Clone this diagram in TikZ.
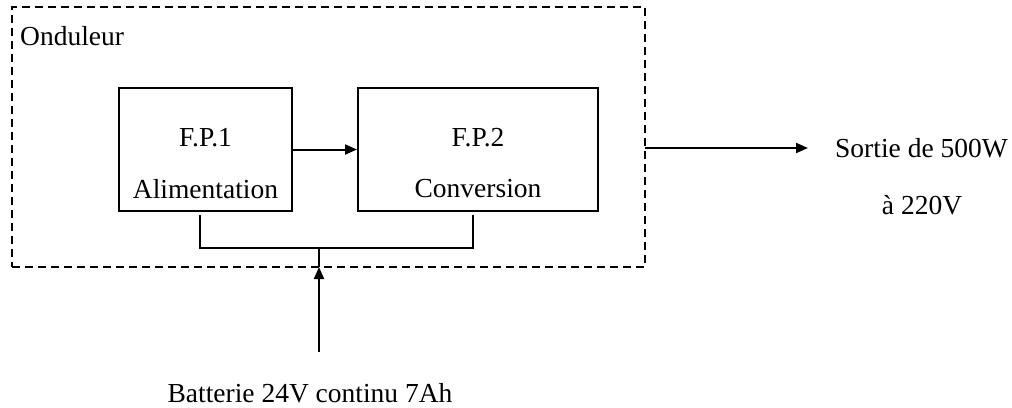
\documentclass[tikz,border=0pt]{standalone}
\usepackage{fontspec}
\setmainfont{Liberation Serif}
\usetikzlibrary{arrows.meta}
\begin{document}
\begin{tikzpicture}[x=1pt,y=-1pt,
  lbl/.style={font=\fontsize{27.5}{32}\selectfont, inner sep=0pt},
  fpbox/.style={draw, line width=2pt, minimum height=123pt},
  wire/.style={line width=2pt},
  arr/.style={wire, -{Triangle[length=12pt,width=10pt]}},
  frame/.style={draw, line width=2pt, dash pattern=on 8pt off 5pt}]
\useasboundingbox (0,0) rectangle (1012,407);
\node[frame, minimum width=633pt, minimum height=260pt, inner sep=0pt] (ond) at (328.5,137) {};
\node[lbl, anchor=base west] (ondlbl) at (20,45) {Onduleur};
\node[fpbox, minimum width=173pt] (fp1) at (205.5,149.5) {};
\node[fpbox, minimum width=240pt] (fp2) at (478,149.5) {};
\node[lbl] (fp1a) at (205.5,138) {F.P.1};
\node[lbl] (fp1b) at (205.5,189) {Alimentation};
\node[lbl] (fp2a) at (478,138) {F.P.2};
\node[lbl] (fp2b) at (478,189) {Conversion};
\draw[arr] (fp1.east) -- (fp2.west);
\coordinate (b1) at (200,215);
\coordinate (b2) at (473,215);
\coordinate (bj) at (319,248);
\coordinate (bat) at (319,352);
\coordinate (bin) at (319,267);
\draw[wire] (b1) |- (bj) -| (b2);
\draw[arr] (bat) -- (bin);
\draw[wire] (bin) -- (bj);
\node[lbl] (batlbl) at (310,393) {Batterie 24V continu 7Ah};
\coordinate (os) at (645,148);
\coordinate (oe) at (808,148);
\draw[arr] (os) -- (oe);
\node[lbl, anchor=west] (out1) at (835,148) {Sortie de 500W};
\node[lbl] (out2) at (922,205) {à 220V};
\end{tikzpicture}
\end{document}
